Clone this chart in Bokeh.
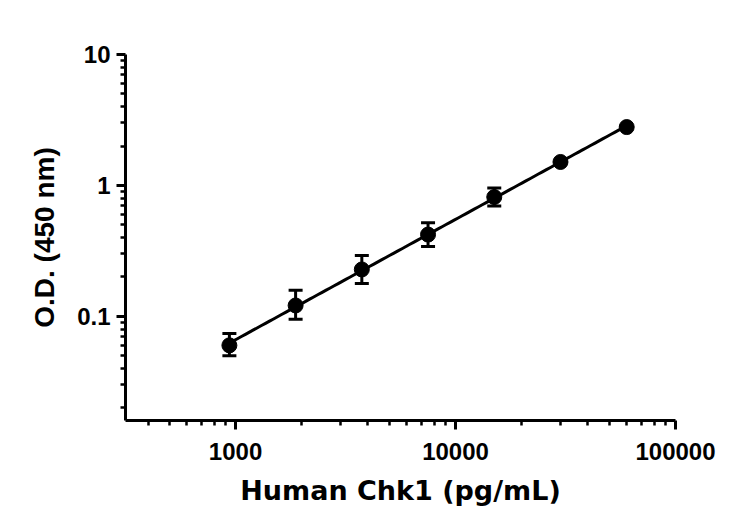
from bokeh.plotting import figure
from bokeh.models import ColumnDataSource, FixedTicker, Whisker, TeeHead, Range1d, CustomJSTickFormatter
from bokeh.embed import file_html
from bokeh.resources import INLINE
import numpy as np

# standard curve, Human Chk1 ELISA
conc = [937.5, 1875, 3750, 7500, 15000, 30000, 60000]
od_mean = [0.060, 0.121, 0.228, 0.421, 0.815, 1.51, 2.79]
od_upper = [0.074, 0.158, 0.292, 0.519, 0.954, 1.51, 2.79]
od_lower = [0.050, 0.095, 0.178, 0.342, 0.695, 1.51, 2.79]

x_ticks = [1000, 10000, 100000]
y_ticks = [0.1, 1, 10]

x_lo, x_hi = 316, 100000
y_lo, y_hi = 0.016, 10

# minor ticks 2..9 in every decade
x_minor = [m * d for d in [100, 1000, 10000] for m in range(2, 10) if x_lo <= m * d <= x_hi]
y_minor = [m * d for d in [0.01, 0.1, 1] for m in range(2, 10) if y_lo <= m * d <= y_hi]

source = ColumnDataSource(data=dict(x=conc, y=od_mean, upper=od_upper, lower=od_lower))

# log-log linear fit through the standards
lx = np.log10(conc)
ly = np.log10(od_mean)
k, b = np.polyfit(lx, ly, 1)
fit_x = np.logspace(lx.min(), lx.max(), 100)
fit_y = 10 ** (b + k * np.log10(fit_x))

p = figure(width=734, height=514, x_axis_type="log", y_axis_type="log",
           x_range=Range1d(x_lo, x_hi), y_range=Range1d(y_lo, y_hi),
           output_backend="svg", toolbar_location=None,
           min_border_left=125, min_border_right=59, min_border_top=54, min_border_bottom=94)

p.line(fit_x, fit_y, line_width=3, color="black")

whisk = Whisker(source=source, base="x", upper="upper", lower="lower", dimension="height",
                line_width=3, line_color="black",
                upper_head=TeeHead(size=14, line_width=3, line_color="black"),
                lower_head=TeeHead(size=14, line_width=3, line_color="black"))
p.add_layout(whisk)

p.scatter(x="x", y="y", source=source, marker="circle", size=15, color="black")

p.grid.visible = False
p.outline_line_color = None

fmt = CustomJSTickFormatter(code="return tick.toString();")
p.xaxis.ticker = FixedTicker(ticks=x_ticks, minor_ticks=x_minor)
p.yaxis.ticker = FixedTicker(ticks=y_ticks, minor_ticks=y_minor)

for ax in (p.xaxis, p.yaxis):
    ax.formatter = fmt
    ax.axis_line_width = 3
    ax.axis_line_color = "black"
    ax.major_tick_line_width = 3
    ax.minor_tick_line_width = 2.5
    ax.major_tick_out = 9
    ax.major_tick_in = 0
    ax.minor_tick_out = 5
    ax.minor_tick_in = 0
    ax.major_label_text_font = "Liberation Sans"
    ax.major_label_text_font_style = "bold"
    ax.major_label_text_font_size = "24px"
    ax.major_label_text_color = "black"
    ax.axis_label_text_color = "black"

p.xaxis.major_label_standoff = 13
p.yaxis.major_label_standoff = 6

p.xaxis.axis_label = "Human Chk1 (pg/mL)"
p.xaxis.axis_label_text_font = "DejaVu Sans"
p.xaxis.axis_label_text_font_style = "bold"
p.xaxis.axis_label_text_font_size = "27px"
p.xaxis.axis_label_standoff = 12

p.yaxis.axis_label = "O.D. (450 nm)"
p.yaxis.axis_label_text_font = "Liberation Sans"
p.yaxis.axis_label_text_font_style = "bold"
p.yaxis.axis_label_text_font_size = "28px"
p.yaxis.axis_label_standoff = 14

open("out.html", "w").write(file_html(p, INLINE))
